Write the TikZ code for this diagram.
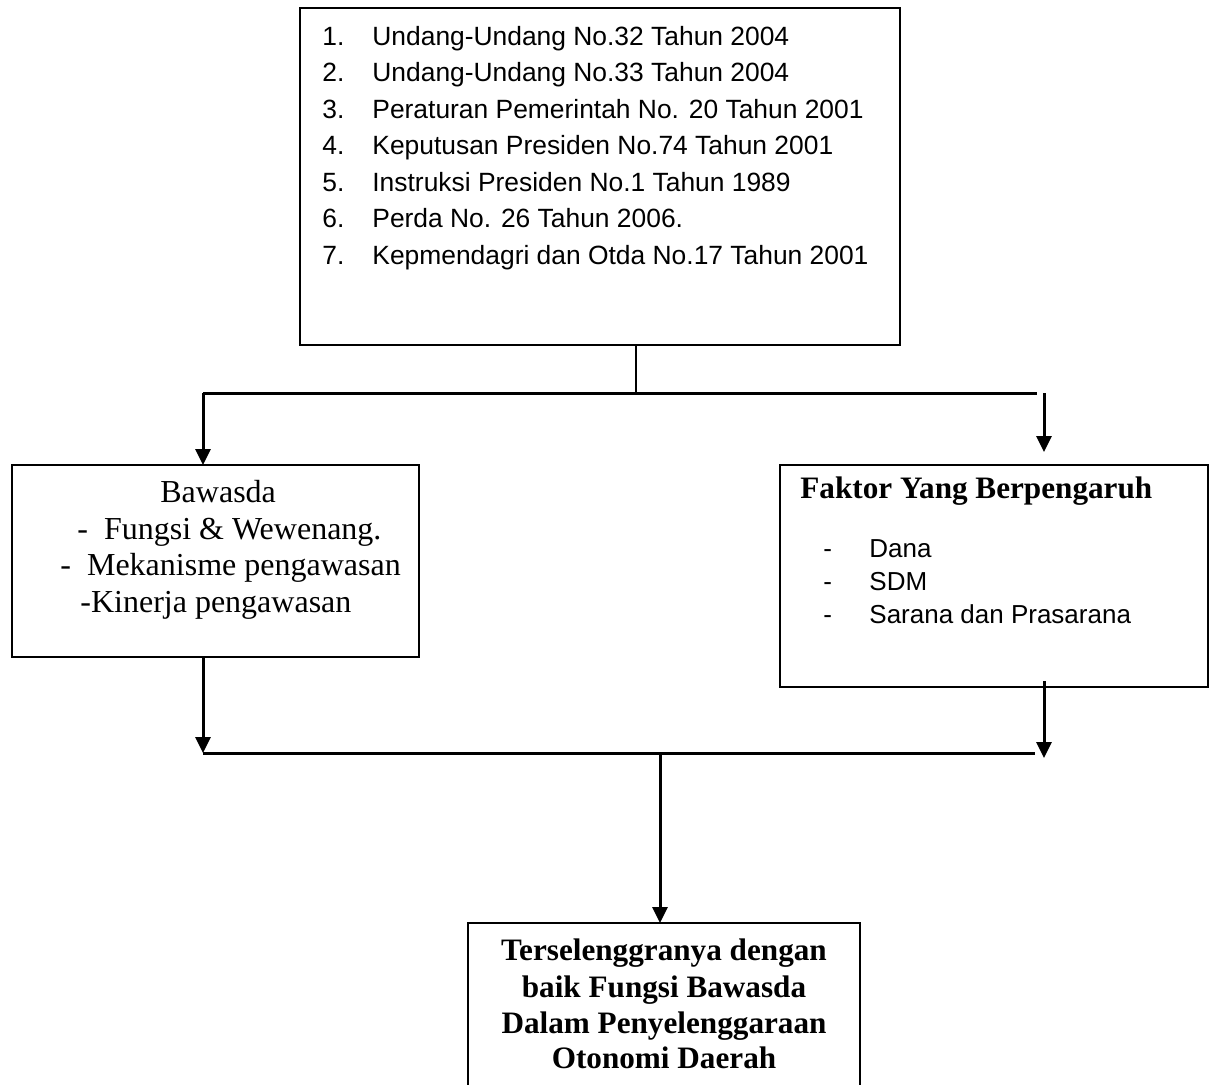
\documentclass[tikz,border=0pt]{standalone}
\usepackage{fontspec}
\setmainfont{Liberation Serif}
\newfontfamily\arialf{Liberation Sans}
\usetikzlibrary{arrows.meta}
\tikzset{
  box/.style={draw, line width=1.25pt, inner sep=0pt, outer sep=0pt, anchor=north west},
  sanstxt/.style={font=\arialf\fontsize{13pt}{15pt}\selectfont, inner sep=0pt, anchor=base west},
  listtxt/.style={font=\arialf\fontsize{13.2pt}{15pt}\selectfont, inner sep=0pt, anchor=base west},
  sertxt/.style={font=\fontsize{16pt}{19pt}\selectfont, inner sep=0pt, anchor=base west},
  boldtxt/.style={font=\bfseries\fontsize{15.6pt}{18pt}\selectfont, inner sep=0pt},
  conn/.style={line width=1.5pt},
  thinconn/.style={line width=0.8pt},
  arr/.style={line width=1.5pt, -{Triangle[length=8pt,width=7.5pt]}}
}
\begin{document}
\begin{tikzpicture}[x=0.5pt, y=-0.5pt]
\useasboundingbox (0,0) rectangle (1213,1084);
\clip (0,0) rectangle (1213,1084);
\fill[white] (0,0) rectangle (1213,1084);

% boxes
\node[box, minimum width=300pt, minimum height=168.5pt] (top) at (300,8) {};
\node[box, minimum width=203.5pt, minimum height=96pt] (left) at (12,465) {};
\node[box, minimum width=214pt, minimum height=111pt] (right) at (780,465) {};
\node[box, minimum width=196pt, minimum height=110pt] (bottom) at (468,923) {};

% top box text
\foreach \i/\t [count=\k from 0] in {1/{Undang-Undang No.32 Tahun 2004},
  2/{Undang-Undang No.33 Tahun 2004},
  3/{Peraturan Pemerintah No. 20 Tahun 2001},
  4/{Keputusan Presiden No.74 Tahun 2001},
  5/{Instruksi Presiden No.1 Tahun 1989},
  6/{Perda No. 26 Tahun 2006.},
  7/{Kepmendagri dan Otda No.17 Tahun 2001}} {
  \node[listtxt] (n\i) at (322, 45+36.5*\k) {\i.};
  \node[listtxt] (l\i) at (372, 45+36.5*\k) {\t};
}

% left box text
\node[sertxt] (b0) at (160,502) {Bawasda};
\node[sertxt] (b1) at (77,539) {-\ \ Fungsi \& Wewenang.};
\node[sertxt] (b2) at (60,575) {-\ \ Mekanisme pengawasan};
\node[sertxt] (b3) at (80,612) {-Kinerja pengawasan};

% right box text
\node[boldtxt, anchor=base west] (f0) at (800,498) {Faktor Yang Berpengaruh};
\foreach \t [count=\k from 0] in {Dana, SDM, Sarana dan Prasarana} {
  \node[sanstxt] (fd\k) at (823, 557+33*\k) {-};
  \node[sanstxt] (ft\k) at (869, 557+33*\k) {\t};
}

% bottom box text
\node[boldtxt, anchor=base] (o1) at (664,960) {Terselenggranya dengan};
\node[boldtxt, anchor=base] (o2) at (664,997) {baik Fungsi Bawasda};
\node[boldtxt, anchor=base] (o3) at (664,1033) {Dalam Penyelenggaraan};
\node[boldtxt, anchor=base] (o4) at (664,1068) {Otonomi Daerah};

% connectors
\coordinate (j1) at (636,393);
\coordinate (hl) at (203,393);
\coordinate (hr) at (1037,393);
\coordinate (ra) at (1044,393);
\coordinate (rt) at (1044,452);
\coordinate (j2l) at (203,753);
\coordinate (j2r) at (1035,753);
\coordinate (rb0) at (1044,681);
\coordinate (rb1) at (1044,758);
\coordinate (j2) at (660,753);

\draw[thinconn] (top.south -| j1) -- (j1);
\draw[conn] (hl) -- (hr);
\draw[arr] (hl) -- (left.north -| hl);
\draw[arr] (ra) -- (rt);
\draw[arr] (left.south -| j2l) -- (j2l);
\draw[arr] (rb0) -- (rb1);
\draw[conn] (j2l) -- (j2r);
\draw[arr] (j2) -- (bottom.north -| j2);
\end{tikzpicture}
\end{document}
